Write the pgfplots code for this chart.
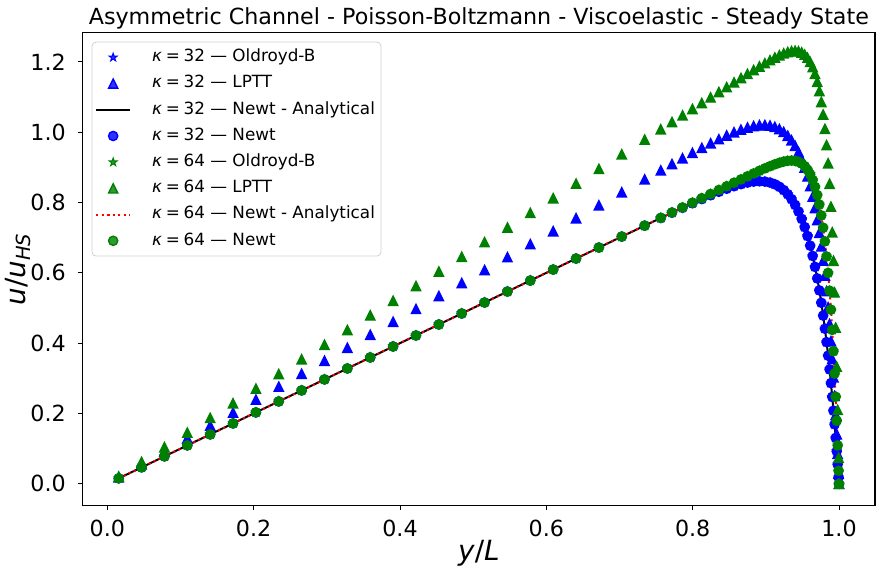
\documentclass[border=0pt]{standalone}
\usepackage{fontspec}
\setmainfont{DejaVu Sans}
\usepackage{pgfplots}
\pgfplotsset{compat=1.18}
\usepackage{pgfplotstable}

\definecolor{mplblue}{RGB}{0,0,255}
\definecolor{mplgreen}{RGB}{0,128,0}
\definecolor{mplred}{RGB}{255,0,0}

\pgfdeclareplotmark{fstar}{%
  \pgfpathmoveto{\pgfpointpolar{90}{\pgfplotmarksize}}%
  \pgfpathlineto{\pgfpointpolar{126}{0.382\pgfplotmarksize}}%
  \pgfpathlineto{\pgfpointpolar{162}{\pgfplotmarksize}}%
  \pgfpathlineto{\pgfpointpolar{198}{0.382\pgfplotmarksize}}%
  \pgfpathlineto{\pgfpointpolar{234}{\pgfplotmarksize}}%
  \pgfpathlineto{\pgfpointpolar{270}{0.382\pgfplotmarksize}}%
  \pgfpathlineto{\pgfpointpolar{306}{\pgfplotmarksize}}%
  \pgfpathlineto{\pgfpointpolar{342}{0.382\pgfplotmarksize}}%
  \pgfpathlineto{\pgfpointpolar{18}{\pgfplotmarksize}}%
  \pgfpathlineto{\pgfpointpolar{54}{0.382\pgfplotmarksize}}%
  \pgfpathclose
  \pgfusepathqfillstroke}
\pgfdeclareplotmark{mtri}{%
  \pgfpathmoveto{\pgfqpoint{0pt}{\pgfplotmarksize}}%
  \pgfpathlineto{\pgfqpoint{-\pgfplotmarksize}{-\pgfplotmarksize}}%
  \pgfpathlineto{\pgfqpoint{\pgfplotmarksize}{-\pgfplotmarksize}}%
  \pgfpathclose
  \pgfusepathqfillstroke}

\pgfplotstableread{
y n32 l32 n64 l64
0.015625 0.01563 0.01842 0.01563 0.02083
0.046875 0.04688 0.05527 0.04688 0.06248
0.078125 0.07813 0.09211 0.07813 0.10413
0.109375 0.10938 0.12895 0.10938 0.14579
0.140625 0.14063 0.16580 0.14063 0.18744
0.171875 0.17188 0.20264 0.17188 0.22909
0.203125 0.20313 0.23948 0.20313 0.27074
0.234375 0.23438 0.27633 0.23438 0.31240
0.265625 0.26563 0.31317 0.26563 0.35405
0.296875 0.29688 0.35001 0.29688 0.39570
0.328125 0.32813 0.38686 0.32813 0.43736
0.359375 0.35938 0.42370 0.35938 0.47901
0.390625 0.39063 0.46055 0.39063 0.52066
0.421875 0.42188 0.49739 0.42188 0.56232
0.453125 0.45313 0.53423 0.45313 0.60397
0.484375 0.48438 0.57108 0.48438 0.64562
0.515625 0.51563 0.60792 0.51563 0.68728
0.546875 0.54688 0.64477 0.54688 0.72893
0.578125 0.57813 0.68161 0.57813 0.77058
0.609375 0.60938 0.71845 0.60938 0.81224
0.640625 0.64063 0.75530 0.64063 0.85389
0.671875 0.67188 0.79214 0.67188 0.89554
0.703125 0.70313 0.82898 0.70313 0.93720
0.734375 0.73418 0.86583 0.73438 0.97885
0.75646 0.75605 0.89146 0.75646 1.00829
0.77174 0.77107 0.90921 0.77174 1.02865
0.78613 0.78506 0.92578 0.78613 1.04783
0.79968 0.79804 0.94118 0.79968 1.06589
0.81245 0.80997 0.95539 0.81245 1.08291
0.82448 0.82084 0.96841 0.82448 1.09895
0.83581 0.83058 0.98018 0.83581 1.11405
0.84648 0.83913 0.99063 0.84643 1.12822
0.85653 0.84639 0.99968 0.85643 1.14157
0.86600 0.85227 1.00725 0.86581 1.15410
0.87491 0.85665 1.01322 0.87458 1.16584
0.88331 0.85941 1.01748 0.88274 1.17679
0.89122 0.86044 1.01992 0.89027 1.18696
0.89867 0.85961 1.02042 0.89714 1.19630
0.90569 0.85679 1.01883 0.90330 1.20480
0.91230 0.85188 1.01510 0.90865 1.21234
0.91853 0.84478 1.00912 0.91309 1.21886
0.92439 0.83543 1.00080 0.91648 1.22420
0.92992 0.82373 0.99006 0.91864 1.22819
0.93512 0.80971 0.97690 0.91939 1.23068
0.94002 0.79332 0.96129 0.91850 1.23142
0.94464 0.77457 0.94320 0.91572 1.23017
0.94899 0.75351 0.92263 0.91078 1.22668
0.95308 0.73027 0.89969 0.90344 1.22069
0.95694 0.70484 0.87431 0.89339 1.21190
0.96057 0.67741 0.84662 0.88039 1.20008
0.96399 0.64809 0.81665 0.86420 1.18495
0.96721 0.61702 0.78445 0.84458 1.16624
0.97025 0.58428 0.75001 0.82128 1.14362
0.97310 0.55028 0.71365 0.79432 1.11702
0.97579 0.51496 0.67517 0.76343 1.08601
0.97833 0.47848 0.63464 0.72848 1.05025
0.98072 0.44114 0.59227 0.68957 1.00952
0.98297 0.40310 0.54808 0.64672 0.96345
0.98509 0.36452 0.50219 0.59998 0.91157
0.98709 0.32551 0.45457 0.54940 0.85329
0.98897 0.28636 0.40550 0.49531 0.78819
0.99074 0.24719 0.35502 0.43787 0.71556
0.99241 0.20804 0.30312 0.37718 0.63446
0.99398 0.16920 0.25014 0.31372 0.54436
0.99546 0.13068 0.19602 0.24762 0.44411
0.99685 0.09274 0.14114 0.17944 0.33323
0.99816 0.05534 0.08542 0.10925 0.21040
0.99940 0.01842 0.02879 0.03708 0.07411
1.00000 0.00000 0.00000 0.00000 0.00000
}\datatab

\begin{document}
\begin{tikzpicture}
\useasboundingbox (-41.35pt,-33.35pt) rectangle (399.15pt,252.65pt);
\begin{axis}[
  at={(0pt,0pt)}, anchor=south west,
  scale only axis, width=396.15pt, height=236.3pt,
  xmin=-0.0336, xmax=1.0492, ymin=-0.061, ymax=1.283,
  xtick={0,0.2,0.4,0.6,0.8,1.0},
  ytick={0,0.2,0.4,0.6,0.8,1.0,1.2},
  xtick pos=left, ytick pos=left,
  tick align=outside, major tick length=2.45pt,
  every tick/.style={black, line width=0.4pt},
  axis line style={black, line width=0.55pt},
  /pgf/number format/assume math mode=true,
  /pgf/number format/fixed,
  /pgf/number format/fixed zerofill,
  /pgf/number format/precision=1,
  tick label style={font=\fontsize{11.1}{13}\selectfont},
  xticklabel style={anchor=north, inner sep=0pt, yshift=-4.85pt},
  yticklabel style={anchor=east, inner sep=0pt, xshift=-5.85pt},
  title={Asymmetric Channel - Poisson-Boltzmann - Viscoelastic - Steady State},
  every axis title shift=0pt,
  title style={at={(0.5,1)}, anchor=base, yshift=4.1pt, inner sep=0pt, font=\fontsize{11.1}{13}\selectfont},
  xlabel={\textit{y}/\textit{L}},
  ylabel={\textit{u}/\textit{u}\textsubscript{\textit{HS}}},
  xlabel style={at={(axis description cs:0.5,-0.1009)}, anchor=center, inner sep=0pt, font=\fontsize{13.9}{16}\selectfont},
  ylabel style={at={(axis description cs:-0.0817,0.5)}, anchor=center, inner sep=0pt, font=\fontsize{13.9}{16}\selectfont},
  legend cell align=left,
  legend style={at={(0,1)}, anchor=north west, xshift=4.5pt, yshift=-4.5pt,
    draw=black!18, rounded corners=2pt, fill=white, fill opacity=0.8, text opacity=1,
    font=\fontsize{8.4}{10}\selectfont, inner xsep=1.5pt, inner ysep=1.5pt, row sep=0.8pt, column sep=9pt,
    nodes={inner xsep=1.5pt, inner ysep=2pt, text height=6.3pt, text depth=2pt}},
]
% kappa = 32
\addplot[only marks, mark=fstar, mark size=2.1pt, color=mplblue, mark options={line width=0.5pt}] table[x=y, y=n32]{\datatab};
\addlegendentry{\textit{κ}\hspace{0.22em}=\hspace{0.22em}32 — Oldroyd-B}
\addplot[only marks, mark=mtri, mark size=2.3pt, color=mplblue, mark options={line width=0.7pt}] table[x=y, y=l32]{\datatab};
\addlegendentry{\textit{κ}\hspace{0.22em}=\hspace{0.22em}32 — LPTT}
\addplot[no marks, black, line width=1pt] table[x=y, y=n32]{\datatab};
\addlegendentry{\textit{κ}\hspace{0.22em}=\hspace{0.22em}32 — Newt - Analytical}
\addplot[only marks, mark=*, mark size=2.3pt, color=mplblue, mark options={line width=0.7pt}] table[x=y, y=n32]{\datatab};
\addlegendentry{\textit{κ}\hspace{0.22em}=\hspace{0.22em}32 — Newt}
% kappa = 64
\addplot[only marks, mark=fstar, mark size=2.1pt, color=mplgreen, mark options={line width=0.5pt}] table[x=y, y=n64]{\datatab};
\addlegendentry{\textit{κ}\hspace{0.22em}=\hspace{0.22em}64 — Oldroyd-B}
\addplot[only marks, mark=mtri, mark size=2.3pt, color=mplgreen, mark options={line width=0.7pt}] table[x=y, y=l64]{\datatab};
\addlegendentry{\textit{κ}\hspace{0.22em}=\hspace{0.22em}64 — LPTT}
\addplot[no marks, mplred, line width=1pt, dash pattern=on 1.04pt off 1.72pt] table[x=y, y=n64]{\datatab};
\addlegendentry{\textit{κ}\hspace{0.22em}=\hspace{0.22em}64 — Newt - Analytical}
\addplot[only marks, mark=*, mark size=2.3pt, color=mplgreen, mark options={line width=0.7pt}] table[x=y, y=n64]{\datatab};
\addlegendentry{\textit{κ}\hspace{0.22em}=\hspace{0.22em}64 — Newt}
\end{axis}
\end{tikzpicture}
\end{document}
